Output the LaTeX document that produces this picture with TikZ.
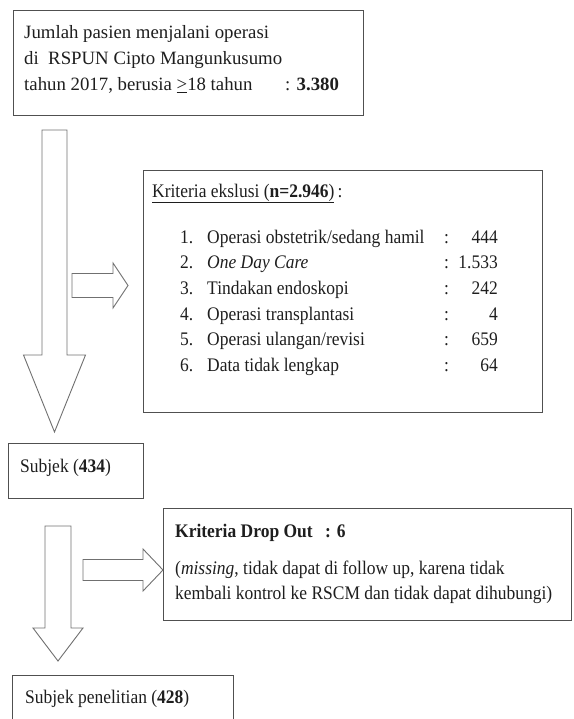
\documentclass[tikz,border=0pt]{standalone}
\usepackage{fontspec}
\setmainfont{Liberation Serif}
\newfontfamily\narrowserif{Liberation Serif}[FakeStretch=0.91]
\usetikzlibrary{positioning,calc}
\definecolor{boxline}{HTML}{505050}
\definecolor{arrline}{HTML}{707070}
\definecolor{ink}{HTML}{1E1E1E}

\tikzset{
  box/.style={draw=boxline, line width=1.3pt, inner sep=0pt, anchor=north west},
  blockarrow/.style={draw=arrline, line width=0.9pt, fill=white, line join=miter},
  txt/.style={anchor=base west, inner sep=0pt, text=ink, font=\narrowserif\fontsize{19.2}{22}\selectfont},
  txtbig/.style={txt, font=\fontsize{18.8}{22}\selectfont},
}

% block arrows: from, tip, shaft half width, head half width, head length
\newcommand{\downblock}[5]{%
  \draw[blockarrow] ($(#1)+(-#3,0)$) -- ($(#1)+(#3,0)$) -- ($(#2)+(#3,-#5)$)
    -- ($(#2)+(#4,-#5)$) -- (#2) -- ($(#2)+(-#4,-#5)$) -- ($(#2)+(-#3,-#5)$) -- cycle;}
\newcommand{\rightblock}[5]{%
  \draw[blockarrow] ($(#1)+(0,-#3)$) -- ($(#1)+(0,#3)$) -- ($(#2)+(-#5,#3)$)
    -- ($(#2)+(-#5,#4)$) -- (#2) -- ($(#2)+(-#5,-#4)$) -- ($(#2)+(-#5,-#3)$) -- cycle;}

\begin{document}
\begin{tikzpicture}[x=1pt, y=-1pt]
  \useasboundingbox (0,0) rectangle (573,719);

  % boxes
  \node[box, minimum width=350pt, minimum height=105pt] (total) at (13,10) {};
  \node[box, minimum width=399pt, minimum height=242pt] (exclude) at (143,170) {};
  \node[box, minimum width=135pt, minimum height=55pt] (subjek) at (8,443) {};
  \node[box, minimum width=408pt, minimum height=112pt] (dropout) at (163,508) {};
  \node[box, minimum width=221pt, minimum height=70pt] (final) at (12,675) {};

  % total patients
  \node[txtbig] (tot1) at (24,39) {Jumlah pasien menjalani operasi};
  \node[txtbig] (tot2) at (24,65) {di\ \ RSPUN Cipto Mangunkusumo};
  \node[txtbig] (tot3) at (24,91) {tahun 2017, berusia \underline{>}18 tahun};
  \node[txtbig] (totn) at (285,91) {: \textbf{3.380}};

  % exclusion criteria
  \node[txt] (extitle) at (152,197) {\underline{Kriteria ekslusi (\textbf{n=2.946})}\,:};
  \foreach \i/\name/\val [evaluate=\i as \yy using 243+(\i-1)*25.7] in
    {1/{Operasi obstetrik/sedang hamil}/444, 2/{\textit{One Day Care}}/1.533,
     3/{Tindakan endoskopi}/242, 4/{Operasi transplantasi}/4,
     5/{Operasi ulangan/revisi}/659, 6/{Data tidak lengkap}/64} {
    \node[txt] (num\i) at (180,\yy) {\i.};
    \node[txt] (item\i) at (207,\yy) {\name};
    \node[txt] (col\i) at (444,\yy) {:};
    \node[txt, anchor=base east] (val\i) at (498,\yy) {\val};
  }

  % subjects
  \node[txt] (subjtxt) at (20,472) {Subjek (\textbf{434})};

  % drop out
  \node[txt] (dotitle) at (175,537) {\textbf{Kriteria Drop Out}};
  \node[txt] (don) at (325,537) {\textbf{: 6}};
  \node[txt] (do1) at (175,574) {(\textit{missing}, tidak dapat di follow up, karena tidak};
  \node[txt] (do2) at (175,599) {kembali kontrol ke RSCM dan tidak dapat dihubungi)};

  % final subjects
  \node[txt] (finaltxt) at (25,703) {Subjek penelitian (\textbf{428})};

  % arrows
  \coordinate (a1s) at (54.5,130);
  \coordinate (a1e) at (54.5,432);
  \coordinate (a2s) at (72,285.5);
  \coordinate (a2e) at (128,285.5);
  \coordinate (a3s) at (58,526);
  \coordinate (a3e) at (58,661);
  \coordinate (a4s) at (83,570);
  \coordinate (a4e) at (163,570);
  \downblock{a1s}{a1e}{12.5}{31}{77}
  \rightblock{a2s}{a2e}{12}{22.5}{15}
  \downblock{a3s}{a3e}{13}{25}{33}
  \rightblock{a4s}{a4e}{10.5}{21}{20}
\end{tikzpicture}
\end{document}
